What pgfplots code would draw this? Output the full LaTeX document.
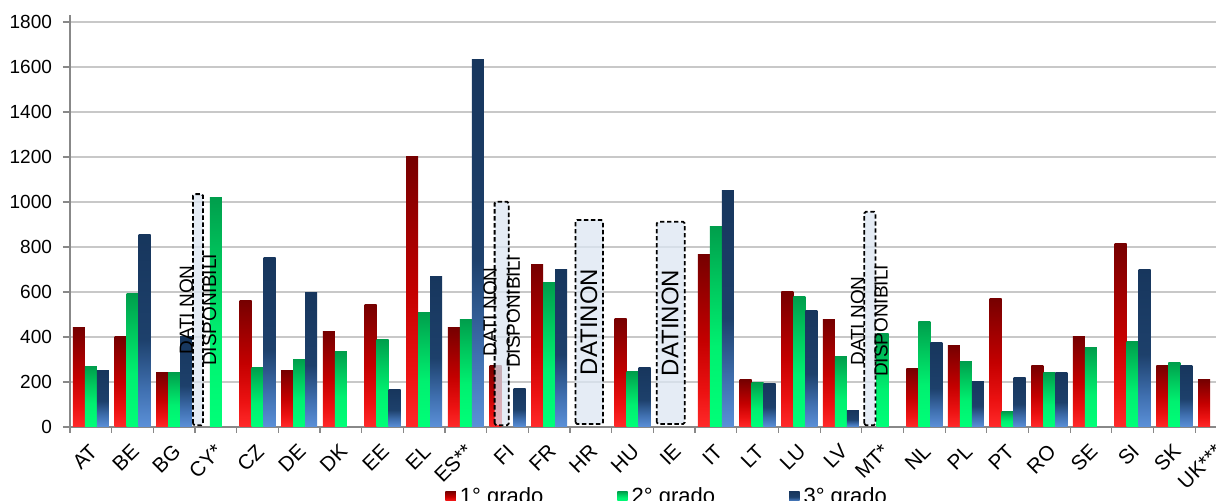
\documentclass[border=0pt]{standalone}
\usepackage{pgfplots}
\pgfplotsset{compat=1.18}
\usepackage{fontspec}
\setmainfont{Liberation Sans}
\definecolor{rTop}{HTML}{760000}
\definecolor{rMid}{HTML}{C40000}
\definecolor{rLow}{HTML}{EC1212}
\definecolor{rBot}{HTML}{FF2A2A}
\definecolor{gTop}{HTML}{009E4C}
\definecolor{gMid}{HTML}{00C95E}
\definecolor{gLow}{HTML}{00F070}
\definecolor{gBot}{HTML}{00FF78}
\definecolor{bTop}{HTML}{17365D}
\definecolor{bMid}{HTML}{1D406B}
\definecolor{bLow}{HTML}{3F6FAF}
\definecolor{bBot}{HTML}{5B90D8}
\definecolor{boxfill}{HTML}{DCE6F2}
\definecolor{gridc}{HTML}{C8C8C8}
\definecolor{axc}{HTML}{888888}
\pgfdeclareverticalshading{redbar}{100bp}{color(0bp)=(rBot); color(25bp)=(rBot); color(35bp)=(rLow); color(50bp)=(rMid); color(75bp)=(rTop); color(100bp)=(rTop)}
\pgfdeclareverticalshading{greenbar}{100bp}{color(0bp)=(gBot); color(25bp)=(gBot); color(45bp)=(gLow); color(60bp)=(gMid); color(75bp)=(gTop); color(100bp)=(gTop)}
\pgfdeclareverticalshading{bluebar}{100bp}{color(0bp)=(bBot); color(25bp)=(bBot); color(35bp)=(bLow); color(48bp)=(bMid); color(75bp)=(bTop); color(100bp)=(bTop)}
\pgfplotsset{
  rstyle/.style={draw=none, shade, shading=redbar},
  gstyle/.style={draw=none, shade, shading=greenbar},
  bstyle/.style={draw=none, shade, shading=bluebar},
}
% one \addplot per bar, so that each bar gets its own gradient
\newcommand{\rb}[2]{\addplot[forget plot, bar shift=-0.288, rstyle] coordinates {(#1,#2)};}
\newcommand{\gb}[2]{\addplot[forget plot, bar shift=0, gstyle] coordinates {(#1,#2)};}
\newcommand{\bb}[2]{\addplot[forget plot, bar shift=0.288, bstyle] coordinates {(#1,#2)};}
\begin{document}
\begin{tikzpicture}
\begin{axis}[
  scale only axis,
  width=573pt, height=206pt,
  xmin=-0.5, xmax=27.0,
  ymin=0, ymax=1831,
  ybar, bar width=0.288,
  axis lines*=left,
  axis line style={axc, line width=0.7pt},
  ytick={0,200,...,1800},
  ymajorgrids,
  grid style={gridc, line width=0.75pt},
  tick align=outside,
  major tick length=3.5pt,
  minor tick length=2.8pt,
  tick style={axc, line width=0.6pt},
  xtick={0,...,27},
  major x tick style={draw=none},
  minor xtick={-0.5,0.5,...,26.5},
  xticklabels={AT,BE,BG,CY*,CZ,DE,DK,EE,EL,ES**,FI,FR,HR,HU,IE,IT,LT,LU,LV,MT*,NL,PL,PT,RO,SE,SI,SK,UK***},
  xticklabel style={rotate=45, anchor=east, font=\fontsize{10.3}{12}\selectfont, yshift=-6pt, xshift=-0.5pt},
  yticklabel style={font=\fontsize{9.5}{11}\selectfont, xshift=-2pt},
  /pgf/number format/assume math mode=true,
  /pgf/number format/1000 sep={},
  legend columns=3,
  legend style={at={(0.522,-0.169)}, anchor=center, draw=none, fill=none, inner sep=0pt,
    font=\fontsize{11}{13}\selectfont,
    /tikz/every even column/.append style={column sep=35pt}},
  legend image code/.code={\path[#1, draw=none] (0pt,-2.6pt) rectangle (5.2pt,2.6pt);},
]
% 1° grado
\rb{0}{440} \rb{1}{400} \rb{2}{241} \rb{4}{564} \rb{5}{253} \rb{6}{424} \rb{7}{544}
\rb{8}{1200} \rb{9}{444} \rb{10}{274} \rb{11}{723} \rb{13}{483} \rb{15}{766} \rb{16}{209}
\rb{17}{603} \rb{18}{477} \rb{20}{259} \rb{21}{363} \rb{22}{572} \rb{23}{274} \rb{24}{401}
\rb{25}{816} \rb{26}{274} \rb{27}{210}
% 2° grado
\gb{0}{269} \gb{1}{592} \gb{2}{241} \gb{3}{1020} \gb{4}{264} \gb{5}{302} \gb{6}{335}
\gb{7}{390} \gb{8}{510} \gb{9}{477} \gb{11}{643} \gb{13}{246} \gb{15}{893} \gb{16}{199}
\gb{17}{581} \gb{18}{313} \gb{19}{416} \gb{20}{467} \gb{21}{292} \gb{22}{67} \gb{23}{241}
\gb{24}{352} \gb{25}{379} \gb{26}{288}
% 3° grado
\bb{0}{253} \bb{1}{855} \bb{2}{400} \bb{4}{752} \bb{5}{599} \bb{7}{166} \bb{8}{670}
\bb{9}{1631} \bb{10}{170} \bb{11}{701} \bb{13}{265} \bb{15}{1050} \bb{16}{193} \bb{17}{516}
\bb{18}{73} \bb{20}{375} \bb{21}{204} \bb{22}{221} \bb{23}{241} \bb{25}{702} \bb{26}{274}
\addlegendimage{rstyle}\addlegendentry{1° grado}
\addlegendimage{gstyle}\addlegendentry{2° grado}
\addlegendimage{bstyle}\addlegendentry{3° grado}
% "dati non disponibili" boxes
\draw[black, line width=0.9pt, dash pattern=on 2.2pt off 1.3pt, fill=boxfill, fill opacity=0.75, rounded corners=0.8pt]
  (axis cs:2.45,8) rectangle (axis cs:2.69,1035);
\draw[black, line width=0.9pt, dash pattern=on 2.2pt off 1.3pt, fill=boxfill, fill opacity=0.75, rounded corners=0.8pt]
  (axis cs:9.69,8) rectangle (axis cs:10.03,1001);
\draw[black, line width=0.9pt, dash pattern=on 2.2pt off 1.3pt, fill=boxfill, fill opacity=0.75, rounded corners=0.8pt]
  (axis cs:11.63,13) rectangle (axis cs:12.29,920);
\draw[black, line width=0.9pt, dash pattern=on 2.2pt off 1.3pt, fill=boxfill, fill opacity=0.75, rounded corners=0.8pt]
  (axis cs:13.58,13) rectangle (axis cs:14.25,912);
\draw[black, line width=0.9pt, dash pattern=on 2.2pt off 1.3pt, fill=boxfill, fill opacity=0.75, rounded corners=0.8pt]
  (axis cs:18.56,8) rectangle (axis cs:18.83,957);
\node[rotate=90, align=center, inner sep=0pt, font=\fontsize{9.5}{11.7}\selectfont] at (axis cs:2.57,520) {DATI NON\\DISPONIBILI};
\node[rotate=90, align=center, inner sep=0pt, font=\fontsize{9.5}{11.7}\selectfont] at (axis cs:9.86,511) {DATI NON\\DISPONIBILI};
\node[rotate=90, align=center, inner sep=0pt, font=\fontsize{9.5}{11.7}\selectfont] at (axis cs:18.68,471) {DATI NON\\DISPONIBILI};
\node[rotate=90, inner sep=0pt, font=\fontsize{12}{14}\selectfont] at (axis cs:11.95,467) {DATINON};
\node[rotate=90, inner sep=0pt, font=\fontsize{12}{14}\selectfont] at (axis cs:13.90,462) {DATINON};
\coordinate (BL) at (rel axis cs:0,0);
\coordinate (TR) at (rel axis cs:1,1);
\end{axis}
\pgfresetboundingbox
\path[use as bounding box] ([xshift=-35pt,yshift=-37pt]BL) rectangle ([yshift=7.5pt]TR);
\end{tikzpicture}
\end{document}
